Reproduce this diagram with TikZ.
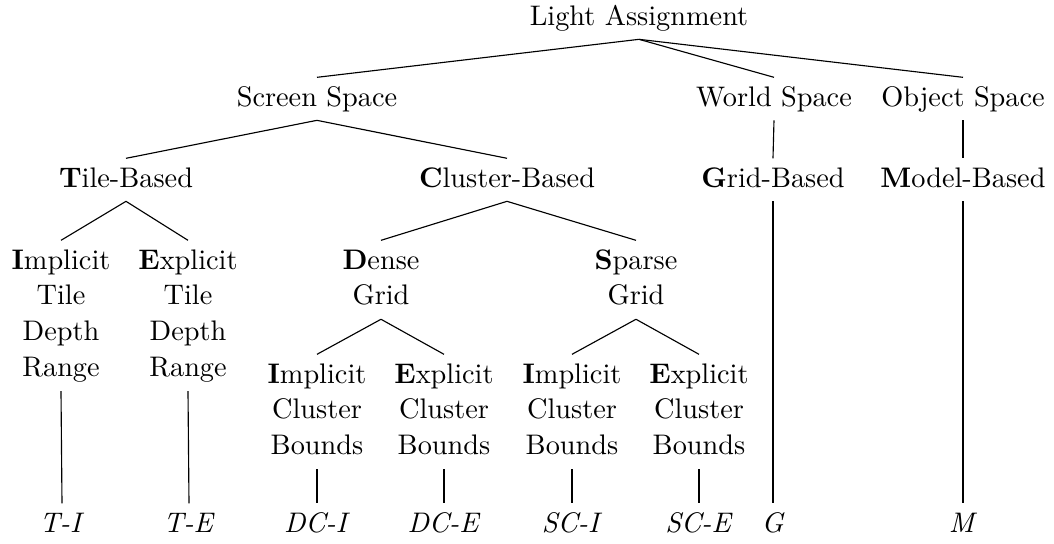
\documentclass[tikz,border=0pt]{standalone}
\newcommand{\stackit}[1]{\begin{tabular}[t]{@{}c@{}}#1\end{tabular}}
\begin{document}
\begin{tikzpicture}[x=0.3534pt,y=-0.3534pt,
  every node/.style={font=\fontsize{10}{12.7}\selectfont},
  lbl/.style={anchor=base,inner sep=0pt,outer sep=1.25pt},
  edge/.style={draw=black,line width=0.4pt}]
\useasboundingbox (0,0) rectangle (1054,543);
% level 0
\node[lbl] (la) at (639,25) {\stackit{Light Assignment}};
% level 1
\node[lbl] (ss) at (317,106) {\stackit{Screen Space}};
\node[lbl] (ws) at (774,106) {\stackit{World Space}};
\node[lbl] (os) at (963,106) {\stackit{Object Space}};
% level 2
\node[lbl] (tb) at (126,187) {\stackit{\textbf{T}ile-Based}};
\node[lbl] (cb) at (507,187) {\stackit{\textbf{C}luster-Based}};
\node[lbl] (gb) at (773,187) {\stackit{\textbf{G}rid-Based}};
\node[lbl] (mb) at (963,187) {\stackit{\textbf{M}odel-Based}};
% level 3
\node[lbl] (ti) at (61,269) {\stackit{\textbf{I}mplicit\\Tile\\Depth\\Range}};
\node[lbl] (te) at (188,269) {\stackit{\textbf{E}xplicit\\Tile\\Depth\\Range}};
\node[lbl] (dg) at (381,269) {\stackit{\textbf{D}ense\\Grid}};
\node[lbl] (sg) at (636,269) {\stackit{\textbf{S}parse\\Grid}};
% level 4
\node[lbl] (dci) at (317,383) {\stackit{\textbf{I}mplicit\\Cluster\\Bounds}};
\node[lbl] (dce) at (444,383) {\stackit{\textbf{E}xplicit\\Cluster\\Bounds}};
\node[lbl] (sci) at (572,383) {\stackit{\textbf{I}mplicit\\Cluster\\Bounds}};
\node[lbl] (sce) at (699,383) {\stackit{\textbf{E}xplicit\\Cluster\\Bounds}};
% leaves
\node[lbl] (lti) at (62,532) {\stackit{\textit{T-I}}};
\node[lbl] (lte) at (189,532) {\stackit{\textit{T-E}}};
\node[lbl] (ldci) at (317,532) {\stackit{\textit{DC-I}}};
\node[lbl] (ldce) at (444,532) {\stackit{\textit{DC-E}}};
\node[lbl] (lsci) at (572,532) {\stackit{\textit{SC-I}}};
\node[lbl] (lsce) at (699,532) {\stackit{\textit{SC-E}}};
\node[lbl] (lg) at (773,532) {\stackit{\textit{G}}};
\node[lbl] (lm) at (963,532) {\stackit{\textit{M}}};
% connectors
\draw[edge] (la.south) -- (ss.north);
\draw[edge] (la.south) -- (ws.north);
\draw[edge] (la.south) -- (os.north);
\draw[edge] (ss.south) -- (tb.north);
\draw[edge] (ss.south) -- (cb.north);
\draw[edge] (ws.south) -- (gb.north);
\draw[edge] (os.south) -- (mb.north);
\draw[edge] (tb.south) -- (ti.north);
\draw[edge] (tb.south) -- (te.north);
\draw[edge] (cb.south) -- (dg.north);
\draw[edge] (cb.south) -- (sg.north);
\draw[edge] (dg.south) -- (dci.north);
\draw[edge] (dg.south) -- (dce.north);
\draw[edge] (sg.south) -- (sci.north);
\draw[edge] (sg.south) -- (sce.north);
\draw[edge] (ti.south) -- (lti.north);
\draw[edge] (te.south) -- (lte.north);
\draw[edge] (dci.south) -- (ldci.north);
\draw[edge] (dce.south) -- (ldce.north);
\draw[edge] (sci.south) -- (lsci.north);
\draw[edge] (sce.south) -- (lsce.north);
\draw[edge] (gb.south) -- (lg.north);
\draw[edge] (mb.south) -- (lm.north);
\end{tikzpicture}
\end{document}
